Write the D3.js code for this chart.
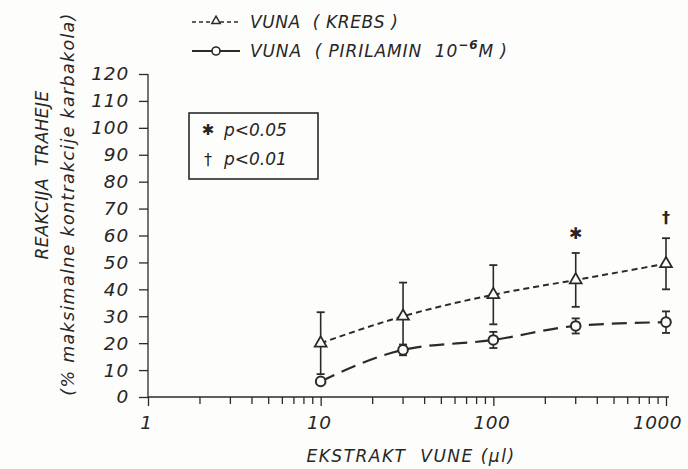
<!DOCTYPE html>
<html>
<head>
<meta charset="utf-8">
<script src="https://cdn.jsdelivr.net/npm/d3@7"></script>
<style>
  body { margin: 0; background: #fdfdfb; }
  text { font-family: "DejaVu Sans", sans-serif; fill: #262626; }
</style>
</head>
<body>
<div id="svg"></div>
<script>
// doses (µl of extract)
const doses = [10, 30, 100, 300, 1000]
// VUNA (KREBS) - triangles
const krebsMean = [20, 30, 38, 43.5, 49.5]
const krebsErr = [11.5, 12.5, 11, 10, 9.5]
// VUNA (PIRILAMIN 10^-6 M) - circles
const pirilMean = [5.8, 17.5, 21.2, 26.4, 27.8]
const pirilErr = [0, 2, 3, 2.8, 4]
// significance marks over the krebs series
const sigMarks = [{dose: 300, value: 61, mark: '✱'}, {dose: 1000, value: 67, mark: '†'}]

const yTicks = [0, 10, 20, 30, 40, 50, 60, 70, 80, 90, 100, 110, 120]
const xMajor = [1, 10, 100, 1000]
const xMinor = [2, 3, 4, 5, 6, 7, 8, 9, 20, 30, 40, 50, 60, 70, 80, 90, 200, 300, 400, 500, 600, 700, 800, 900]

const ink = '#2a2a2a'

const svg = d3.select('#svg')
  .append('svg')
    .attr('width', 688)
    .attr('height', 469)

const xscale = d3.scaleLog()
  .domain([1, 1000])
  .range([148, 666])

const yscale = d3.scaleLinear()
  .domain([0, 120])
  .range([397, 74])

// x axis: major + minor ticks, downward
const xAxisMajor = d3.axisBottom(xscale)
  .tickValues(xMajor)
  .tickSize(9)
  .tickPadding(10)
  .tickFormat(d3.format('d'))

const xg = svg.append('g')
  .attr('transform', 'translate(0, 397)')
  .call(xAxisMajor)
xg.select('.domain').attr('d', 'M148,0H669').attr('stroke', ink).attr('stroke-width', 1.3)
xg.selectAll('.tick line').attr('stroke', ink).attr('stroke-width', 1.3)
xg.selectAll('.tick text')
  .attr('font-size', 18.5)
  .attr('fill', ink)
  .attr('font-family', 'DejaVu Sans')
  .attr('letter-spacing', 0.5)
  .attr('dx', d => d === 1000 ? -9 : -2)
  .style('font-style', 'italic')

svg.append('g')
  .selectAll('line')
  .data(xMinor)
  .enter()
  .append('line')
    .attr('x1', d => xscale(d))
    .attr('x2', d => xscale(d))
    .attr('y1', 397)
    .attr('y2', 404)
    .attr('stroke', ink)
    .attr('stroke-width', 1.3)

// y axis
const leftAxis = d3.axisLeft(yscale)
  .tickValues(yTicks)
  .tickSize(9)
  .tickPadding(10)

const yg = svg.append('g')
  .attr('transform', 'translate(148, 0)')
  .call(leftAxis)
yg.select('.domain').attr('d', 'M0,397V74').attr('stroke', ink).attr('stroke-width', 1.3)
yg.selectAll('.tick line').attr('stroke', ink).attr('stroke-width', 1.3)
yg.selectAll('.tick text')
  .attr('font-size', 18.5)
  .attr('fill', ink)
  .attr('font-family', 'DejaVu Sans')
  .attr('letter-spacing', 0.8)
  .style('font-style', 'italic')

// axis titles
svg.append('text')
  .attr('x', 411)
  .attr('y', 462)
  .attr('text-anchor', 'middle')
  .attr('font-size', 17)
  .attr('letter-spacing', 1.5)
  .style('font-style', 'italic')
  .style('white-space', 'pre')
  .text('EKSTRAKT  VUNE (µl)')

svg.append('text')
  .attr('transform', 'translate(48, 175) rotate(-90)')
  .attr('text-anchor', 'middle')
  .attr('font-size', 17)
  .attr('letter-spacing', 0.4)
  .style('font-style', 'italic')
  .style('white-space', 'pre')
  .text('REAKCIJA  TRAHEJE')

svg.append('text')
  .attr('transform', 'translate(74, 204) rotate(-90)')
  .attr('text-anchor', 'middle')
  .attr('font-size', 17.5)
  .attr('letter-spacing', 1.3)
  .style('font-style', 'italic')
  .text('(% maksimalne kontrakcije karbakola)')

// curves
const line = d3.line()
  .x(d => xscale(d[0]))
  .y(d => yscale(d[1]))
  .curve(d3.curveMonotoneX)

svg.append('path')
  .datum(doses.map((d, i) => [d, krebsMean[i]]))
  .attr('d', line)
  .attr('fill', 'none')
  .attr('stroke', ink)
  .attr('stroke-width', 2)
  .attr('stroke-dasharray', '6,4')

svg.append('path')
  .datum(doses.map((d, i) => [d, pirilMean[i]]))
  .attr('d', line)
  .attr('fill', 'none')
  .attr('stroke', ink)
  .attr('stroke-width', 2.2)
  .attr('stroke-dasharray', '15,8')

// error bars
function errorBars(means, errs) {
  const g = svg.append('g')
  const rows = doses.map((d, i) => ({dose: d, m: means[i], e: errs[i]})).filter(r => r.e > 0)
  g.selectAll('line.v')
    .data(rows)
    .enter()
    .append('line')
      .attr('x1', d => xscale(d.dose))
      .attr('x2', d => xscale(d.dose))
      .attr('y1', d => yscale(d.m - d.e))
      .attr('y2', d => yscale(d.m + d.e))
      .attr('stroke', ink)
      .attr('stroke-width', 1.6)
  g.selectAll('line.top')
    .data(rows)
    .enter()
    .append('line')
      .attr('x1', d => xscale(d.dose) - 4)
      .attr('x2', d => xscale(d.dose) + 4)
      .attr('y1', d => yscale(d.m + d.e))
      .attr('y2', d => yscale(d.m + d.e))
      .attr('stroke', ink)
      .attr('stroke-width', 1.8)
  g.selectAll('line.bot')
    .data(rows)
    .enter()
    .append('line')
      .attr('x1', d => xscale(d.dose) - 4)
      .attr('x2', d => xscale(d.dose) + 4)
      .attr('y1', d => yscale(d.m - d.e))
      .attr('y2', d => yscale(d.m - d.e))
      .attr('stroke', ink)
      .attr('stroke-width', 1.8)
}
errorBars(krebsMean, krebsErr)
errorBars(pirilMean, pirilErr)

// markers
const tri = d3.symbol().type(d3.symbolTriangle).size(60)

svg.append('g')
  .selectAll('path')
  .data(doses.map((d, i) => [d, krebsMean[i]]))
  .enter()
  .append('path')
    .attr('d', tri)
    .attr('transform', d => `translate(${xscale(d[0])}, ${yscale(d[1])})`)
    .attr('fill', '#fdfdfb')
    .attr('stroke', ink)
    .attr('stroke-width', 1.8)

svg.append('g')
  .selectAll('circle')
  .data(doses.map((d, i) => [d, pirilMean[i]]))
  .enter()
  .append('circle')
    .attr('cx', d => xscale(d[0]))
    .attr('cy', d => yscale(d[1]))
    .attr('r', 4.8)
    .attr('fill', '#fdfdfb')
    .attr('stroke', ink)
    .attr('stroke-width', 2)

svg.append('g')
  .selectAll('text')
  .data(sigMarks)
  .enter()
  .append('text')
    .attr('x', d => xscale(d.dose))
    .attr('y', d => yscale(d.value) + 6)
    .attr('text-anchor', 'middle')
    .attr('font-size', 16)
    .attr('font-weight', 'bold')
    .text(d => d.mark)

// top legend
const legend = svg.append('g')
legend.append('line')
  .attr('x1', 192).attr('x2', 240).attr('y1', 22).attr('y2', 22)
  .attr('stroke', ink).attr('stroke-width', 1.6).attr('stroke-dasharray', '4,3')
legend.append('path')
  .attr('d', d3.symbol().type(d3.symbolTriangle).size(30))
  .attr('transform', 'translate(216, 21)')
  .attr('fill', '#fdfdfb').attr('stroke', ink).attr('stroke-width', 1.5)
legend.append('text')
  .attr('x', 250).attr('y', 28)
  .attr('font-size', 17)
  .attr('letter-spacing', 0.6)
  .style('font-style', 'italic')
  .style('white-space', 'pre')
  .text('VUNA  ( KREBS )')

legend.append('line')
  .attr('x1', 192).attr('x2', 240).attr('y1', 51).attr('y2', 51)
  .attr('stroke', ink).attr('stroke-width', 2)
legend.append('circle')
  .attr('cx', 216).attr('cy', 51).attr('r', 4)
  .attr('fill', '#fdfdfb').attr('stroke', ink).attr('stroke-width', 1.6)
const t2 = legend.append('text')
  .attr('x', 250).attr('y', 57)
  .attr('font-size', 17)
  .attr('letter-spacing', 0.9)
  .style('font-style', 'italic')
  .style('white-space', 'pre')
t2.append('tspan').text('VUNA  ( PIRILAMIN  10')
t2.append('tspan').attr('dy', -8).attr('font-size', 12).attr('font-weight', 'bold').text('−6')
t2.append('tspan').attr('dy', 8).text('M )')

// significance box
svg.append('rect')
  .attr('x', 189).attr('y', 113)
  .attr('width', 129).attr('height', 66)
  .attr('fill', 'none')
  .attr('stroke', ink)
  .attr('stroke-width', 1.6)

svg.append('text')
  .attr('x', 208).attr('y', 135)
  .attr('text-anchor', 'middle')
  .attr('font-size', 15).attr('font-weight', 'bold')
  .text('✱')
svg.append('text')
  .attr('x', 224).attr('y', 136)
  .attr('font-size', 17)
  .style('font-style', 'italic')
  .text('p<0.05')
svg.append('text')
  .attr('x', 208).attr('y', 165)
  .attr('text-anchor', 'middle')
  .attr('font-size', 16)
  .text('†')
svg.append('text')
  .attr('x', 224).attr('y', 165)
  .attr('font-size', 17)
  .style('font-style', 'italic')
  .text('p<0.01')
</script>
</body>
</html>
